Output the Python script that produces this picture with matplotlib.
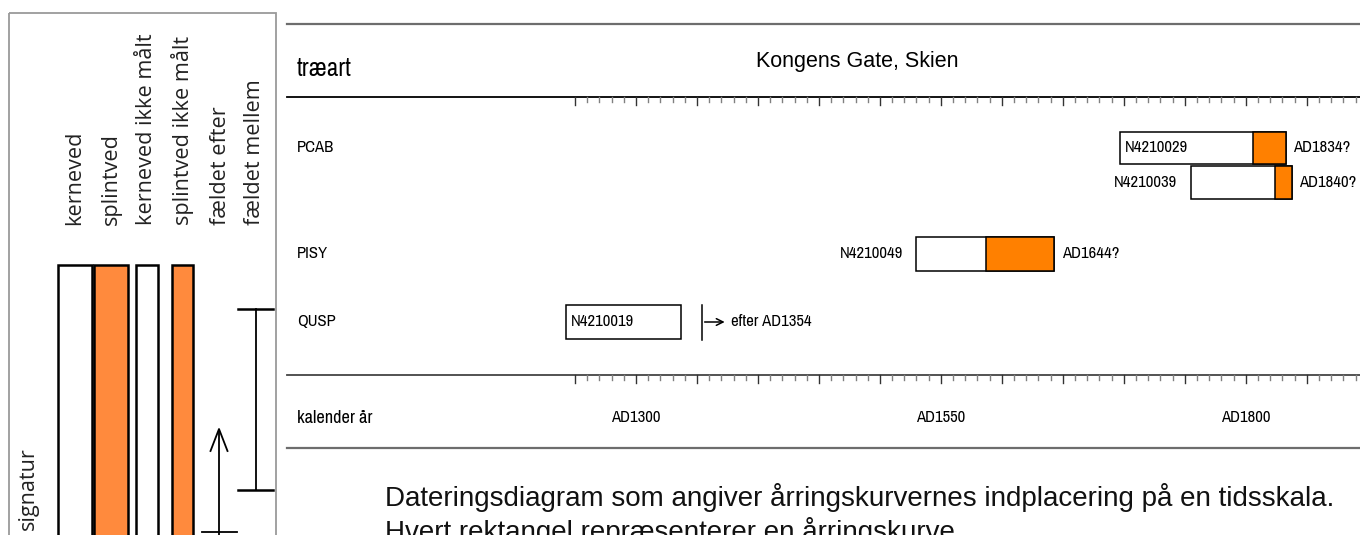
import matplotlib
matplotlib.use("Agg")
import matplotlib.pyplot as plt
from matplotlib.patches import Rectangle
from matplotlib import font_manager

# ---------------- data ----------------
title = "Kongens Gate, Skien"
species = ["PCAB", "PCAB", "PISY", "QUSP"]
row_labels = ["PCAB", "PISY", "QUSP"]
samples = ["N4210029", "N4210039", "N4210049", "N4210019"]
ring_start = [1697, 1755, 1530, 1243]      # first ring (heartwood start)
sap_start = [1806, 1824, 1587, None]       # start of sapwood
ring_end = [1833, 1838, 1643, 1337]        # last measured ring
felling = ["AD1834?", "AD1840?", "AD1644?", "efter AD1354"]
after_year = 1354
year_ticks = [1300, 1550, 1800]
year_labels = ["AD1300", "AD1550", "AD1800"]
legend_labels = ["kerneved", "splintved", "kerneved ikke målt",
                 "splintved ikke målt", "fældet efter", "fældet mellem"]
caption = ["Dateringsdiagram som angiver årringskurvernes indplacering på en tidsskala.",
           "Hvert rektangel repræsenterer en årringskurve."]

# ---------------- styling ----------------
W, H = 1360, 535
ORANGE = "#FF8000"
ORANGE_L = "#FF8A3D"
avail = {f.name for f in font_manager.fontManager.ttflist}
narrow_found = sorted(n for n in avail if "Narrow" in n)
if narrow_found:
    NARROW = [narrow_found[0], "Liberation Sans", "DejaVu Sans"]
    NS = 12.0
    TS = 18.0
else:
    NARROW = ["Liberation Sans", "DejaVu Sans"]
    NS = 10.2
    TS = 15.0
ARIAL = ["Liberation Sans", "DejaVu Sans"]
LEG = ["Open Sans", "DejaVu Sans"]

fig = plt.figure(figsize=(W / 100, H / 100), dpi=100)
# pixel-coordinate axes
axp = fig.add_axes([0, 0, 1, 1])
axp.set_xlim(0, W)
axp.set_ylim(H, 0)
axp.axis("off")
# year-coordinate axes (x = years, y = pixels)
px_per_year = 1.2195
x1300 = 636.0
y0 = 1300 - x1300 / px_per_year
y1 = 1300 + (W - x1300) / px_per_year
ax = fig.add_axes([0, 0, 1, 1])
ax.set_xlim(y0, y1)
ax.set_ylim(H, 0)
ax.axis("off")
ax.patch.set_alpha(0)

# ---------------- left legend panel ----------------
axp.add_patch(Rectangle((9, 13), 267, 600, fill=False, ec="#9a9a9a", lw=1.3))
leg_x = [75, 111.5, 146.5, 183, 220, 255]
for x, t in zip(leg_x, legend_labels):
    axp.text(x, 225, t, rotation=90, ha="center", va="bottom",
             fontsize=15.6, family=LEG, color="#222222")
axp.text(28, 530, "signatur", rotation=90, ha="center", va="bottom",
         fontsize=15.6, family=LEG, color="#222222")
axp.add_patch(Rectangle((58, 265), 34, 300, fc="white", ec="black", lw=1.8))
axp.add_patch(Rectangle((94, 265), 34, 300, fc=ORANGE_L, ec="black", lw=1.8))
axp.add_patch(Rectangle((136, 265), 22, 300, fc="white", ec="black", lw=1.8))
axp.add_patch(Rectangle((172, 265), 21, 300, fc=ORANGE_L, ec="black", lw=1.8))
# faeldet efter: arrow up from a bar
axp.plot([219, 219], [430, 540], color="black", lw=1.3)
axp.plot([210.5, 219, 227.5], [451, 429, 451], color="black", lw=1.3)
axp.plot([202, 237], [532, 532], color="black", lw=1.3)
# faeldet mellem
axp.plot([256, 256], [309, 490], color="black", lw=1.3)
axp.plot([238, 273], [309, 309], color="black", lw=1.8)
axp.plot([238, 273], [490, 490], color="black", lw=1.8)

# ---------------- right panel frame lines ----------------
axp.plot([287, W], [24, 24], color="#6d6d6d", lw=1.6)
axp.plot([287, W], [97, 97], color="black", lw=1.3)
axp.plot([287, W], [375, 375], color="#444444", lw=1.3)
axp.plot([287, W], [448, 448], color="#6d6d6d", lw=1.6)

axp.text(297, 68, "træart", ha="left", va="center", fontsize=TS, family=NARROW)
axp.text(857, 62, title, ha="center", va="center", fontsize=15.5, family=ARIAL)
row_y = {"PCAB": 148, "PISY": 254, "QUSP": 322}
for r in row_labels:
    axp.text(297, row_y[r], r, ha="left", va="center", fontsize=NS, family=NARROW)
axp.text(297, 418, "kalender år", ha="left", va="center", fontsize=NS * 1.1, family=NARROW)

# ticks (every 10 years, major every 50)
for yr in range(1250, 1891, 10):
    major = (yr % 50 == 0)
    for base in (97, 375):
        ax.plot([yr, yr], [base, base + (8 if major else 4.5)],
                color="#333333" if major else "#808080", lw=1.0)
for yr, lab in zip(year_ticks, year_labels):
    ax.text(yr, 418, lab, ha="center", va="center", fontsize=NS, family=NARROW)

# ---------------- bars ----------------
bar_y = [132, 166, 237, 305]
bar_h = [32, 33, 34, 34]
inside = [True, False, False, True]
for i in range(len(samples)):
    s, e, sp = ring_start[i], ring_end[i], sap_start[i]
    yb, hb = bar_y[i], bar_h[i]
    ax.add_patch(Rectangle((s, yb), e - s, hb, fc="white", ec="black", lw=1.1, zorder=2))
    if sp is not None:
        ax.add_patch(Rectangle((sp, yb), e - sp, hb, fc=ORANGE, ec="black", lw=1.1, zorder=3))
    yc = yb + hb / 2
    if inside[i]:
        ax.text(s + 4, yc, samples[i], ha="left", va="center", fontsize=NS, family=NARROW, zorder=4)
    else:
        ax.text(s - 11, yc, samples[i], ha="right", va="center", fontsize=NS, family=NARROW, zorder=4)
    if sp is not None:
        ax.text(e + 6, yc, felling[i], ha="left", va="center", fontsize=NS, family=NARROW)

# "efter" marker for the oak
yb, hb = bar_y[3], bar_h[3]
ax.plot([after_year, after_year], [yb, yb + hb + 1], color="black", lw=1.1)
ax.annotate("", xy=(after_year + 21, yb + hb / 2), xytext=(after_year, yb + hb / 2),
            arrowprops=dict(arrowstyle="->", color="black", lw=1.1, mutation_scale=12))
ax.text(after_year + 24, yb + hb / 2, felling[3], ha="left", va="center", fontsize=NS, family=NARROW)

# ---------------- caption ----------------
axp.text(385, 497, caption[0], ha="left", va="center", fontsize=20, family=ARIAL, color="#111111")
axp.text(385, 531, caption[1], ha="left", va="center", fontsize=20, family=ARIAL, color="#111111")

fig.savefig("out.png", dpi=100)
